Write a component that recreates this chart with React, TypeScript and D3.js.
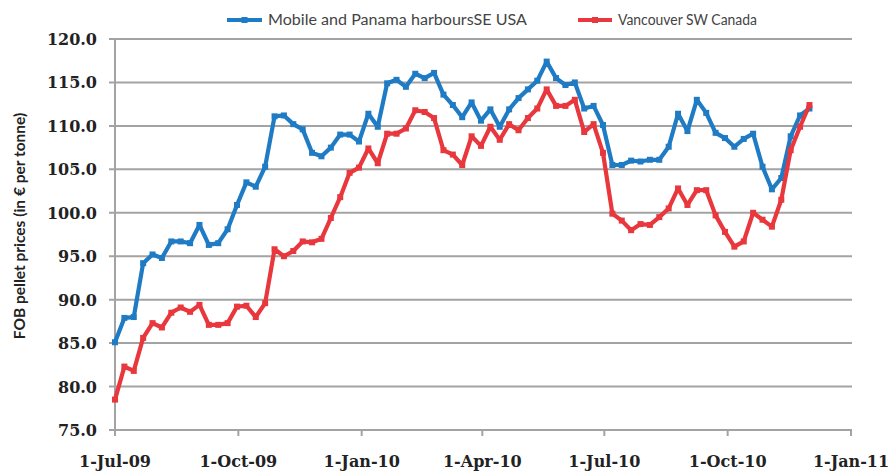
import React from "react";
import * as d3 from "d3";

const usaSeries: number[] = [
  85.1, 87.9, 88.0, 94.2, 95.2, 94.8, 96.7, 96.7, 96.5, 98.6,
  96.3, 96.5, 98.1, 100.9, 103.5, 103.0, 105.3, 111.1, 111.2, 110.2,
  109.6, 106.9, 106.5, 107.5, 109.0, 109.0, 108.2, 111.4, 109.9, 114.9,
  115.3, 114.5, 116.0, 115.5, 116.1, 113.6, 112.4, 111.0, 112.7, 110.6,
  111.9, 109.9, 111.9, 113.2, 114.2, 115.2, 117.4, 115.5, 114.7, 115.0,
  112.0, 112.3, 110.1, 105.5, 105.5, 106.0, 105.9, 106.1, 106.1, 107.6,
  111.4, 109.4, 113.0, 111.5, 109.2, 108.6, 107.6, 108.5, 109.1, 105.3,
  102.7, 104.0, 108.8, 111.2, 112.0,
];

const canadaSeries: number[] = [
  78.5, 82.3, 81.8, 85.6, 87.3, 86.8, 88.5, 89.1, 88.6, 89.4,
  87.1, 87.1, 87.3, 89.2, 89.3, 88.0, 89.6, 95.8, 95.0, 95.6,
  96.7, 96.6, 97.0, 99.4, 101.8, 104.6, 105.2, 107.4, 105.7, 109.1,
  109.1, 109.7, 111.8, 111.6, 110.9, 107.2, 106.7, 105.5, 108.8, 107.7,
  109.9, 108.4, 110.2, 109.5, 110.9, 112.0, 114.2, 112.3, 112.3, 113.0,
  109.3, 110.2, 106.9, 99.9, 99.1, 98.0, 98.7, 98.6, 99.5, 100.5,
  102.8, 100.9, 102.6, 102.6, 99.7, 97.8, 96.1, 96.7, 100.0, 99.2,
  98.4, 101.5, 107.2, 109.9, 112.4,
];

const seriesNames: string[] = ["Mobile and Panama harboursSE USA", "Vancouver SW  Canada"];
const yTicks: number[] = [75, 80, 85, 90, 95, 100, 105, 110, 115, 120];
const xTickLabels: string[] = ["1-Jul-09", "1-Oct-09", "1-Jan-10", "1-Apr-10", "1-Jul-10", "1-Oct-10", "1-Jan-11"];
const xTickDates: Date[] = [
  new Date(2009, 6, 1), new Date(2009, 9, 1), new Date(2010, 0, 1), new Date(2010, 3, 1),
  new Date(2010, 6, 1), new Date(2010, 9, 1), new Date(2011, 0, 1),
];
const firstWeek = new Date(2009, 6, 1);
const weekDates: Date[] = usaSeries.map((_, i) => d3.timeDay.offset(firstWeek, 7 * i));

const W = 891;
const H = 472;
const left = 115;
const right = 851;
const top = 39;
const bottom = 430;

const BLUE = "#1f7bc4";
const RED = "#e8373d";
const GRID = "#a3a3a3";

export default function App() {
  const x = d3.scaleTime().domain([xTickDates[0], xTickDates[xTickDates.length - 1]]).range([left, right]);
  const y = d3.scaleLinear().domain([75, 120]).range([bottom, top]);
  const line = d3
    .line<number>()
    .x((_, i) => x(weekDates[i]))
    .y((d) => y(d));

  const series = [
    { name: seriesNames[0], data: usaSeries, color: BLUE },
    { name: seriesNames[1], data: canadaSeries, color: RED },
  ];

  const legendItems = [
    { x0: 227, x1: 262, tx: 268, len: 259, color: BLUE, name: seriesNames[0] },
    { x0: 578, x1: 612, tx: 618, len: 139, color: RED, name: seriesNames[1] },
  ];

  return (
    <svg width={W} height={H} style={{ position: "absolute", left: 0, top: 0, background: "#fff" }}>
      <rect x={0} y={0} width={W} height={H} fill="#fff" />
      {yTicks.map((t) => (
        <line key={"g" + t} x1={left - 6} x2={right + 1} y1={y(t)} y2={y(t)} stroke={GRID} strokeWidth={2} />
      ))}
      <line x1={left} x2={left} y1={top} y2={bottom} stroke={GRID} strokeWidth={2} />
      {xTickDates.map((d, i) => (
        <line key={"xt" + i} x1={x(d)} x2={x(d)} y1={bottom} y2={bottom + 6} stroke={GRID} strokeWidth={2} />
      ))}
      {yTicks.map((t) => (
        <text
          key={"yl" + t}
          x={97}
          y={y(t) + 6}
          textAnchor="end"
          fontFamily="'DejaVu Serif', serif"
          fontWeight="bold"
          fontSize={16}
          fill="#222"
        >
          {t.toFixed(1)}
        </text>
      ))}
      {xTickDates.map((d, i) => (
        <text
          key={"xl" + i}
          x={x(d)}
          y={467}
          textAnchor="middle"
          fontFamily="'DejaVu Serif', serif"
          fontWeight="bold"
          fontSize={16}
          fill="#222"
        >
          {xTickLabels[i]}
        </text>
      ))}
      <text
        transform="translate(25,226) rotate(-90)"
        textAnchor="middle"
        fontFamily="Lato, sans-serif"
        fontWeight="bold"
        fontSize={15.5}
        fill="#222"
      >
        FOB pellet prices (in € per tonne)
      </text>
      {series.map((s) => (
        <g key={s.name}>
          <path d={line(s.data) || ""} fill="none" stroke={s.color} strokeWidth={4.2} strokeLinejoin="round" />
          {s.data.map((v, i) => (
            <rect key={i} x={x(weekDates[i]) - 3} y={y(v) - 3} width={6} height={6} fill={s.color} />
          ))}
        </g>
      ))}
      {legendItems.map((l) => (
        <g key={l.name}>
          <line x1={l.x0} x2={l.x1} y1={20} y2={20} stroke={l.color} strokeWidth={4.2} />
          <rect x={(l.x0 + l.x1) / 2 - 3} y={17} width={6} height={6} fill={l.color} />
          <text
            x={l.tx}
            y={25}
            fontFamily="Lato, sans-serif"
            fontSize={14.5}
            fill="#444"
            textLength={l.len}
            lengthAdjust="spacingAndGlyphs"
          >
            {l.name}
          </text>
        </g>
      ))}
    </svg>
  );
}
